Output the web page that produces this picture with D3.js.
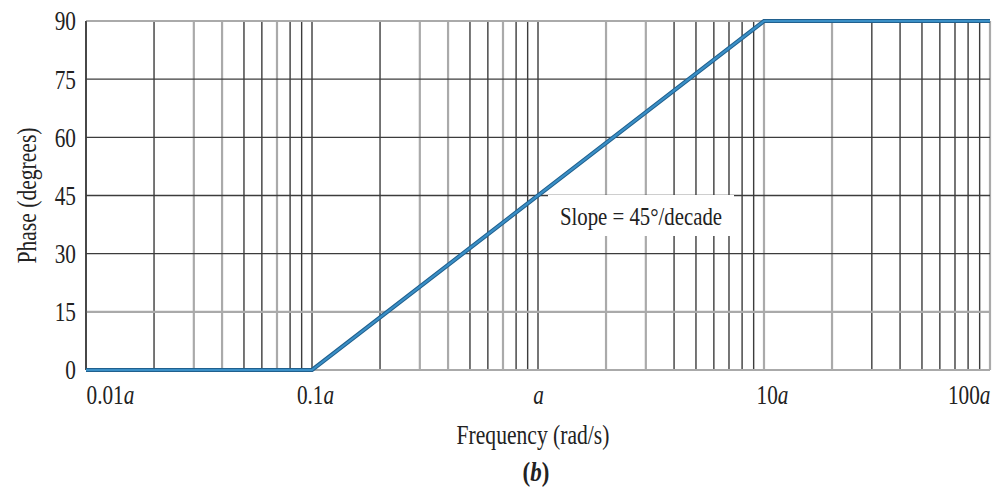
<!DOCTYPE html>
<html>
<head>
<meta charset="utf-8">
<script src="https://cdn.jsdelivr.net/npm/d3@7/dist/d3.min.js"></script>
<style>
  html, body { margin: 0; padding: 0; background: #fff; }
  svg { display: block; }
  text { font-family: "Liberation Serif", "DejaVu Serif", serif; fill: #222; }
</style>
</head>
<body>
<div id="chart"></div>
<script>
// ── Data ──────────────────────────────────────────────────────────────
const DECADES     = [0.01, 0.1, 1, 10, 100];
const DECADE_TXT  = ['0.01', '0.1', '', '10', '100'];   // each followed by italic "a"
const PHASE_TICKS = [0, 15, 30, 45, 60, 75, 90];
const FREQ        = [0.01, 0.1, 10, 100];                 // multiples of a
const PHASE       = [0, 0, 90, 90];                       // degrees
const NOTE        = 'Slope = 45°/decade';

// gridlines that look washed-out in the scan
const LIGHT_X = [0.03, 0.04, 0.07, 0.3, 0.4, 0.7, 2, 3, 10, 20, 100];
const LIGHT_Y = [15];

const W = 1000, H = 494;
const M = { left: 86, right: 10, top: 21, bottom: 124 };

const svg = d3.select('#chart').append('svg')
  .attr('width', W).attr('height', H);

const x = d3.scaleLog().domain([0.01, 100]).range([M.left, W - M.right]);
const y = d3.scaleLinear().domain([0, 90]).range([H - M.bottom, M.top]);

const isLight = (arr, v) => arr.some(a => Math.abs(a - v) / a < 1e-6);

// ── grid ──────────────────────────────────────────────────────────────
const grid = svg.append('g');
x.ticks().forEach(function (v) {
  const light = isLight(LIGHT_X, v);
  grid.append('line')
    .attr('x1', x(v)).attr('x2', x(v))
    .attr('y1', y(0)).attr('y2', y(90))
    .attr('stroke', light ? '#aaa' : '#3c3c3c')
    .attr('stroke-width', light ? 2.2 : 1.4);
});
PHASE_TICKS.forEach(function (v) {
  const light = isLight(LIGHT_Y, v) || v === 0 || v === 90;
  grid.append('line')
    .attr('x1', x(0.01)).attr('x2', x(100))
    .attr('y1', y(v)).attr('y2', y(v))
    .attr('stroke', light ? '#aaa' : '#3c3c3c')
    .attr('stroke-width', light ? 2.2 : 1.4);
});
// left frame edge is dark
grid.append('line')
  .attr('x1', x(0.01)).attr('x2', x(0.01))
  .attr('y1', y(0)).attr('y2', y(90))
  .attr('stroke', '#3c3c3c').attr('stroke-width', 1.6);

// ── note box (hides gridlines behind the text) ────────────────────────
const noteX = 641, noteY = 216;
svg.append('rect')
  .attr('x', noteX - 93).attr('y', noteY - 21)
  .attr('width', 186).attr('height', 41)
  .attr('fill', '#fff');
svg.append('text')
  .attr('transform', 'translate(' + noteX + ',' + (noteY + 9) + ') scale(0.8,1)')
  .attr('text-anchor', 'middle')
  .attr('font-size', 26)
  .text(NOTE);

// ── curve ─────────────────────────────────────────────────────────────
const line = d3.line()
  .x(function (d, i) { return x(FREQ[i]); })
  .y(function (d) { return y(d); });

svg.append('path')
  .datum(PHASE)
  .attr('d', line)
  .attr('fill', 'none')
  .attr('stroke', '#20608e')
  .attr('stroke-width', 4.2);
svg.append('path')
  .datum(PHASE)
  .attr('d', line)
  .attr('fill', 'none')
  .attr('stroke', '#3a8fc6')
  .attr('stroke-width', 2.2);

// ── axes ──────────────────────────────────────────────────────────────
const yAxis = svg.append('g')
  .attr('transform', 'translate(' + M.left + ',0)')
  .call(d3.axisLeft(y).tickValues(PHASE_TICKS).tickSize(0).tickPadding(10));
yAxis.select('.domain').remove();
yAxis.selectAll('text')
  .attr('font-size', 28)
  .attr('font-family', '"Liberation Serif", serif')
  .attr('fill', '#222')
  .attr('dy', '0.32em')
  .attr('transform', 'translate(-10,0) scale(0.76,1) translate(10,0)');

const xAxis = svg.append('g')
  .attr('transform', 'translate(0,' + y(0) + ')')
  .call(d3.axisBottom(x).tickValues(DECADES).tickSize(0).tickPadding(14));
xAxis.select('.domain').remove();
xAxis.selectAll('text')
  .attr('font-size', 28)
  .attr('font-family', '"Liberation Serif", serif')
  .attr('fill', '#222')
  .attr('text-anchor', function (d, i) {
    return i === 0 ? 'start' : (i === DECADES.length - 1 ? 'end' : 'middle');
  })
  .attr('transform', function (d, i) {
    const shift = (i === 3) ? 8 : (i === 1 ? 3 : 0);
    return 'translate(' + shift + ',0) scale(0.76,1)';
  })
  .each(function (d, i) {
    const t = d3.select(this).text('');
    t.append('tspan').text(DECADE_TXT[i]);
    t.append('tspan').attr('font-style', 'italic').text('a');
  });

// ── labels ────────────────────────────────────────────────────────────
svg.append('text')
  .attr('transform', 'translate(36,' + ((y(0) + y(90)) / 2) + ') rotate(-90) scale(0.8,1)')
  .attr('text-anchor', 'middle')
  .attr('font-size', 27)
  .text('Phase (degrees)');

svg.append('text')
  .attr('transform', 'translate(533,444) scale(0.8,1)')
  .attr('text-anchor', 'middle')
  .attr('font-size', 27)
  .text('Frequency (rad/s)');

const cap = svg.append('text')
  .attr('transform', 'translate(536,481) scale(0.85,1)')
  .attr('text-anchor', 'middle')
  .attr('font-size', 27)
  .attr('font-weight', 'bold');
cap.append('tspan').text('(');
cap.append('tspan').attr('font-style', 'italic').text('b');
cap.append('tspan').text(')');
</script>
</body>
</html>
